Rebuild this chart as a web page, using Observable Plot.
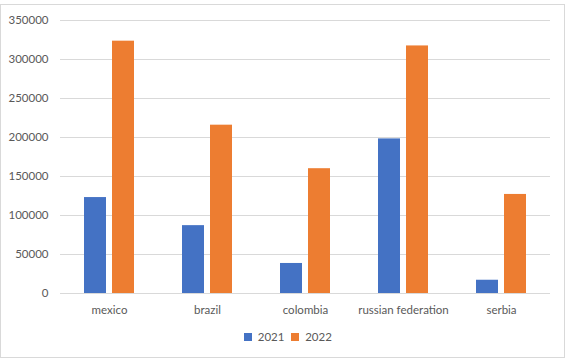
<!DOCTYPE html>
<html>
<head>
<meta charset="utf-8">
<script src="https://cdn.jsdelivr.net/npm/d3@7"></script>
<script src="https://cdn.jsdelivr.net/npm/@observablehq/plot@0.6"></script>
<style>
  html, body { margin: 0; padding: 0; background: #fff; }
  #wrap { position: relative; width: 570px; height: 361px; overflow: hidden; }
  #frame { position: absolute; left: 0; top: 4px; width: 563px; height: 352px; border: 1.5px solid #d9d9d9; pointer-events: none; }
  #legend { position: absolute; left: 244px; top: 320px; }
  #legend span { margin-right: 7px !important; }
</style>
</head>
<body>
<div id="wrap"><div id="frame"></div><div id="legend"></div></div>
<script>
const countries = ["mexico", "brazil", "colombia", "russian federation", "serbia"];
const years = ["2021", "2022"];
const values2021 = [123000, 87000, 38500, 198200, 17000];
const values2022 = [323500, 215800, 160000, 317400, 127000];
const yTicks = [0, 50000, 100000, 150000, 200000, 250000, 300000, 350000];
const colors = ["#4472C4", "#ED7D31"];

const data = [];
countries.forEach((c, i) => {
  data.push({country: c, year: years[0], value: values2021[i]});
  data.push({country: c, year: years[1], value: values2022[i]});
});

const font = "Lato, 'Open Sans', sans-serif";

const chart = Plot.plot({
  width: 570,
  height: 361,
  marginLeft: 59,
  marginRight: 20,
  marginTop: 20,
  marginBottom: 68,
  style: {fontFamily: font, fontSize: "11.5px", color: "#595959", background: "transparent"},
  fx: {domain: countries, padding: 0, label: null, axis: "bottom", tickSize: 0, tickPadding: 12},
  x: {domain: years, axis: null, paddingInner: 0.214, paddingOuter: 0.857},
  y: {domain: [0, 350000], ticks: yTicks, label: null, tickSize: 0, tickPadding: 12, tickFormat: d => String(d)},
  color: {domain: years, range: colors},
  marks: [
    Plot.ruleY(yTicks, {stroke: "#d9d9d9", strokeWidth: 1}),
    Plot.barY(data, {fx: "country", x: "year", y: "value", fill: "year"})
  ]
});
document.getElementById("wrap").prepend(chart);

const legend = Plot.legend({
  color: {domain: years, range: colors},
  legend: "swatches",
  swatchSize: 8,
  style: {fontFamily: font, fontSize: "11.5px", color: "#595959", marginLeft: 0}
});
document.getElementById("legend").append(legend);
</script>
</body>
</html>
